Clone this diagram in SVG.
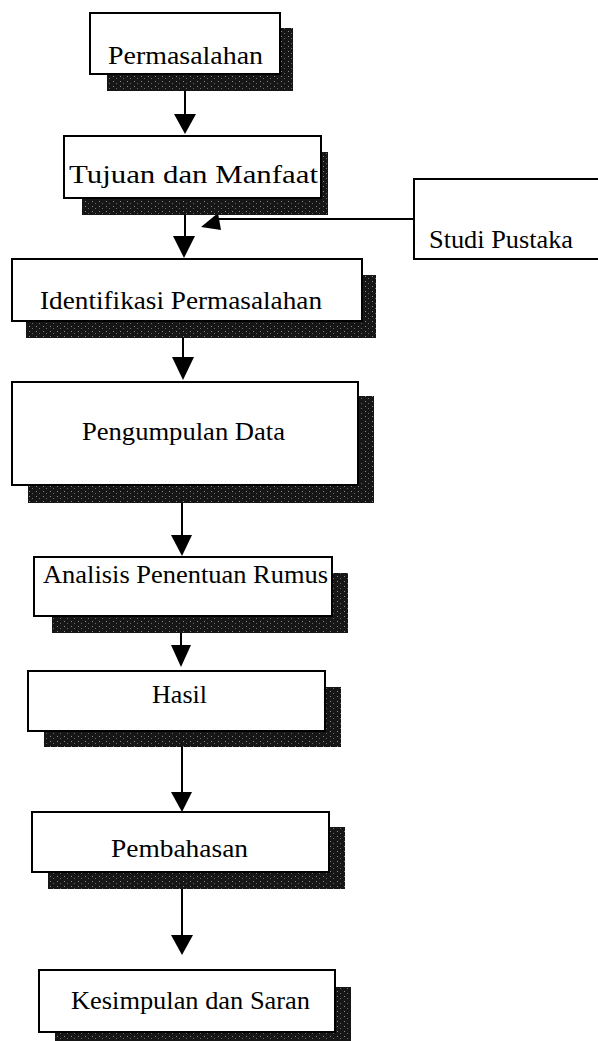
<svg xmlns="http://www.w3.org/2000/svg" width="598" height="1041" viewBox="0 0 598 1041">
<defs>
<pattern id="speck" width="7" height="5" patternUnits="userSpaceOnUse">
<rect width="7" height="5" fill="#161616"/>
<rect x="1" y="1" width="1" height="1" fill="#8a8a8a"/>
<rect x="4" y="3" width="1" height="1" fill="#6a6a6a"/>
</pattern>
</defs>
<style>
.shadow{fill:url(#speck);}
.box{fill:#fff;stroke:#000;stroke-width:2;}
.lbl{font-family:"Liberation Serif","Times New Roman",serif;font-size:25px;fill:#000;}
.ln{stroke:#000;stroke-width:2;fill:none;}
.head{fill:#000;}
</style>
<rect width="598" height="1041" fill="#fff"/>

<g id="connectors">
<line class="ln" x1="185" y1="91" x2="185" y2="115"/>
<polygon class="head" points="174,114 196,114 185,134"/>
<line class="ln" x1="185" y1="215" x2="185" y2="236"/>
<polygon class="head" points="173,236 195,236 184,258"/>
<line class="ln" x1="414" y1="219" x2="218" y2="219"/>
<polygon class="head" points="201,227 218,213 221,230"/>
<line class="ln" x1="183" y1="338" x2="183" y2="358"/>
<polygon class="head" points="172,357 194,357 183,380"/>
<line class="ln" x1="182" y1="503" x2="182" y2="536"/>
<polygon class="head" points="171,535 192,535 182,556"/>
<line class="ln" x1="181" y1="633" x2="181" y2="646"/>
<polygon class="head" points="171,645 191,645 181,667"/>
<line class="ln" x1="182" y1="747" x2="182" y2="793"/>
<polygon class="head" points="171,792 192,792 182,812"/>
<line class="ln" x1="182" y1="889" x2="182" y2="936"/>
<polygon class="head" points="171,935 193,935 182,955"/>
</g>

<g id="n-permasalahan">
<rect class="shadow" x="107" y="28" width="186" height="63"/>
<rect class="box" x="90" y="13" width="190" height="61"/>
<text class="lbl" x="108" y="64" textLength="155" lengthAdjust="spacingAndGlyphs">Permasalahan</text>
</g>

<g id="n-tujuan">
<rect class="shadow" x="82" y="152" width="246" height="63"/>
<rect class="box" x="64" y="136" width="257" height="62"/>
<text class="lbl" x="69" y="183" textLength="249" lengthAdjust="spacingAndGlyphs">Tujuan dan Manfaat</text>
</g>

<g id="n-studi">
<rect class="box" x="414" y="179" width="190" height="80"/>
<text class="lbl" x="429" y="248" textLength="144" lengthAdjust="spacingAndGlyphs">Studi Pustaka</text>
</g>

<g id="n-identifikasi">
<rect class="shadow" x="26" y="275" width="350" height="63"/>
<rect class="box" x="12" y="259" width="350" height="62"/>
<text class="lbl" x="40" y="309" textLength="282" lengthAdjust="spacingAndGlyphs">Identifikasi Permasalahan</text>
</g>

<g id="n-pengumpulan">
<rect class="shadow" x="28" y="396" width="346" height="107"/>
<rect class="box" x="12" y="382" width="346" height="103"/>
<text class="lbl" x="82" y="440" textLength="203" lengthAdjust="spacingAndGlyphs">Pengumpulan Data</text>
</g>

<g id="n-analisis">
<rect class="shadow" x="52" y="573" width="296" height="60"/>
<rect class="box" x="34" y="557" width="298" height="59"/>
<text class="lbl" x="43" y="583" textLength="285" lengthAdjust="spacingAndGlyphs">Analisis Penentuan Rumus</text>
</g>

<g id="n-hasil">
<rect class="shadow" x="44" y="687" width="297" height="60"/>
<rect class="box" x="28" y="671" width="297" height="60"/>
<text class="lbl" x="152" y="703" textLength="55" lengthAdjust="spacingAndGlyphs">Hasil</text>
</g>

<g id="n-pembahasan">
<rect class="shadow" x="48" y="827" width="297" height="62"/>
<rect class="box" x="32" y="812" width="297" height="60"/>
<text class="lbl" x="111" y="857" textLength="137" lengthAdjust="spacingAndGlyphs">Pembahasan</text>
</g>

<g id="n-kesimpulan">
<rect class="shadow" x="55" y="987" width="296" height="60"/>
<rect class="box" x="39" y="970" width="296" height="62"/>
<text class="lbl" x="71" y="1009" textLength="239" lengthAdjust="spacingAndGlyphs">Kesimpulan dan Saran</text>
</g>
</svg>
